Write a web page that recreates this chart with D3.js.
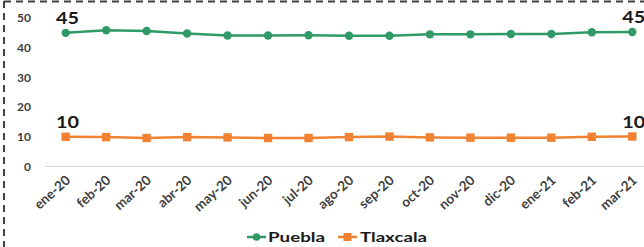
<!DOCTYPE html>
<html><head><meta charset="utf-8">
<script src="https://cdn.jsdelivr.net/npm/d3@7"></script>
<style>body{margin:0;background:#fff}svg{display:block}</style>
</head><body>
<svg id="c" width="644" height="247"></svg>
<script>
const months = ["ene-20","feb-20","mar-20","abr-20","may-20","jun-20","jul-20","ago-20","sep-20","oct-20","nov-20","dic-20","ene-21","feb-21","mar-21"];
const puebla = [45.0,45.9,45.6,44.8,44.1,44.1,44.2,44.0,44.0,44.5,44.5,44.6,44.6,45.2,45.3];
const tlaxcala = [10.0,9.9,9.6,9.9,9.8,9.6,9.6,9.9,10.1,9.8,9.7,9.7,9.7,10.0,10.1];
const yTicks = [0,10,20,30,40,50];
const seriesNames = ["Puebla","Tlaxcala"];
const colors = ["#309a66","#f08232"];
const font = "Lato, 'Open Sans', sans-serif";

const svg = d3.select("#c");
// dashed frame
svg.append("line").attr("x1",4).attr("x2",644).attr("y1",1.5).attr("y2",1.5)
  .attr("stroke","#404040").attr("stroke-width",2).attr("stroke-dasharray","7,5");
svg.append("line").attr("x1",4).attr("x2",4).attr("y1",1).attr("y2",247)
  .attr("stroke","#404040").attr("stroke-width",2).attr("stroke-dasharray","7,5");

const x = d3.scalePoint().domain(months).range([65.7,632.3]);
const y = d3.scaleLinear().domain([0,50]).range([166.5,18]);

// baseline
svg.append("line").attr("x1",45).attr("x2",644).attr("y1",y(0)).attr("y2",y(0))
  .attr("stroke","#d9d9d9").attr("stroke-width",1);

// y axis labels
const ya = svg.append("g").attr("transform","translate(31,0)")
  .call(d3.axisLeft(y).tickValues(yTicks).tickSize(0).tickPadding(0));
ya.select(".domain").remove();
ya.selectAll("text").attr("font-family",font).attr("font-weight","bold")
  .attr("font-size",12).attr("fill","#404040");

// x axis labels
const xa = svg.append("g").attr("transform",`translate(0,${y(0)})`)
  .call(d3.axisBottom(x).tickSize(0).tickPadding(0));
xa.select(".domain").remove();
xa.selectAll("text").attr("font-family",font).attr("font-weight","bold")
  .attr("font-size",13.5).attr("fill","#404040")
  .attr("text-anchor","end").attr("dy",0)
  .attr("transform","translate(5,15) rotate(-42)");

const line = d3.line().x((d,i)=>x(months[i])).y(d=>y(d));
const data = [puebla, tlaxcala];
data.forEach((vals,si)=>{
  svg.append("path").attr("d",line(vals)).attr("fill","none")
    .attr("stroke",colors[si]).attr("stroke-width",2.5);
  if (si===0) {
    svg.selectAll(null).data(vals).enter().append("circle")
      .attr("cx",(d,i)=>x(months[i])).attr("cy",d=>y(d)).attr("r",4.2)
      .attr("fill",colors[si]);
  } else {
    svg.selectAll(null).data(vals).enter().append("rect")
      .attr("x",(d,i)=>x(months[i])-4.2).attr("y",d=>y(d)-4.2)
      .attr("width",8.4).attr("height",8.4).attr("fill",colors[si]);
  }
  [0, vals.length-1].forEach(i=>{
    const cx = x(months[i]) + (i===0 ? 1.8 : 1.5);
    svg.append("text").attr("x",cx-11.5).attr("y",y(vals[i])-8.6)
      .attr("font-family",font).attr("font-weight","bold")
      .attr("font-size",17).attr("fill","#1a1a1a")
      .attr("textLength",23).attr("lengthAdjust","spacingAndGlyphs")
      .text(Math.round(vals[i]));
  });
});

// legend
const lg = [{x:247,tx:268,w:57},{x:338,tx:360,w:67}];
seriesNames.forEach((n,i)=>{
  const g = svg.append("g");
  g.append("line").attr("x1",lg[i].x).attr("x2",lg[i].x+19).attr("y1",237).attr("y2",237)
    .attr("stroke",colors[i]).attr("stroke-width",2.5);
  if (i===0) g.append("circle").attr("cx",lg[i].x+9.5).attr("cy",237).attr("r",3.8).attr("fill",colors[i]);
  else g.append("rect").attr("x",lg[i].x+5.5).attr("y",233).attr("width",8).attr("height",8).attr("fill",colors[i]);
  g.append("text").attr("x",lg[i].tx).attr("y",241.5).attr("font-family",font).attr("font-weight","bold")
    .attr("font-size",13.5).attr("fill","#1a1a1a")
    .attr("textLength",lg[i].w).attr("lengthAdjust","spacingAndGlyphs").text(n);
});
</script>
</body></html>
